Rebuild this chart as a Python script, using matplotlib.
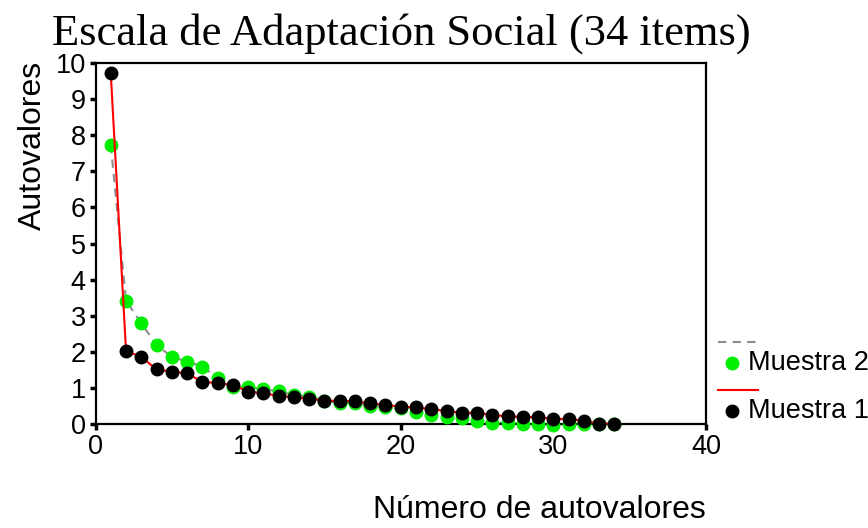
import matplotlib
matplotlib.use("Agg")
import matplotlib.pyplot as plt
from matplotlib.lines import Line2D

# Data
componentes = list(range(1, 35))
muestra1 = [9.72, 2.02, 1.86, 1.51, 1.45, 1.40, 1.17, 1.13, 1.08, 0.90,
            0.85, 0.78, 0.74, 0.70, 0.65, 0.64, 0.63, 0.57, 0.53, 0.48,
            0.46, 0.41, 0.36, 0.31, 0.31, 0.25, 0.21, 0.20, 0.19, 0.14,
            0.14, 0.09, 0.01, 0.01]
muestra2 = [7.73, 3.42, 2.79, 2.19, 1.86, 1.73, 1.59, 1.27, 1.02, 1.03,
            0.96, 0.91, 0.80, 0.76, 0.64, 0.58, 0.57, 0.51, 0.46, 0.43,
            0.34, 0.25, 0.20, 0.16, 0.09, 0.04, 0.03, 0.00, 0.00, -0.02,
            0.00, 0.01, 0.00, 0.00]
x_ticks = [0, 10, 20, 30, 40]
y_ticks = list(range(0, 11))

plt.rcParams['font.family'] = ['Liberation Sans', 'DejaVu Sans']

W, H = 868, 528
fig = plt.figure(figsize=(W / 100, H / 100), dpi=100)
ax = fig.add_axes([95.5 / W, 1 - 424 / H, (706 - 95.5) / W, (424 - 63) / H])

ms = 9
ax.plot(componentes, muestra2, linestyle=(0, (4, 3)), color='#8c8c8c', lw=1.5,
        zorder=2, clip_on=False)
ax.plot(componentes, muestra2, linestyle='none', marker='o', ms=ms,
        color='#00ee00', mec='#00ee00', zorder=3, clip_on=False)
ax.plot(componentes, muestra1, linestyle='-', color='#ff0000', lw=1.5,
        zorder=4, clip_on=False)
ax.plot(componentes, muestra1, linestyle='none', marker='o', ms=ms,
        color='black', mec='black', zorder=5, clip_on=False)

ax.set_xlim(0, 40)
ax.set_ylim(0, 10)
ax.set_xticks(x_ticks)
ax.set_yticks(y_ticks)
ax.tick_params(axis='both', direction='out', length=4, width=2.5,
               labelsize=19.5, pad=3)
for s in ax.spines.values():
    s.set_linewidth(1.6)

fig.text(401 / W, 1 - 45 / H, 'Escala de Adaptación Social (34 items)',
         family='Liberation Serif', fontsize=32, ha='center', va='baseline')
fig.text(33 / W, 1 - 145 / H, 'Autovalores', rotation=90, fontsize=23,
         ha='center', va='center')
fig.text(706 / W, 1 - 510 / H, 'Número de autovalores', fontsize=23,
         ha='right', va='center')

# Legend (manual, SPSS style)
fig.add_artist(Line2D([718 / W, 758 / W], [1 - 342 / H, 1 - 342 / H],
                      color='#8c8c8c', lw=1.5, linestyle=(0, (4, 3))))
fig.add_artist(Line2D([732 / W], [1 - 363 / H], marker='o', ms=ms,
                      color='#00ee00', linestyle='none'))
fig.text(748 / W, 1 - 363 / H, 'Muestra 2', fontsize=19.5, ha='left', va='center')
fig.add_artist(Line2D([718 / W, 758 / W], [1 - 390 / H, 1 - 390 / H],
                      color='#ff0000', lw=1.5))
fig.add_artist(Line2D([732 / W], [1 - 411 / H], marker='o', ms=ms,
                      color='black', linestyle='none'))
fig.text(748 / W, 1 - 411 / H, 'Muestra 1', fontsize=19.5, ha='left', va='center')

fig.savefig('out.png', dpi=100)
